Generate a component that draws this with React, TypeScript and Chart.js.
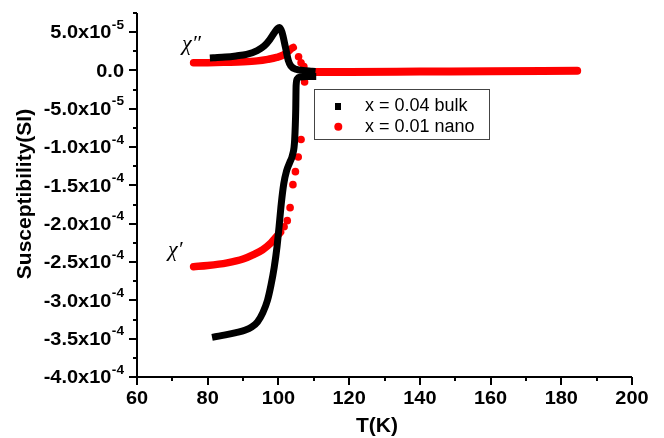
import React, { useEffect, useRef } from "react";
import { Chart, registerables } from "chart.js";

Chart.register(...registerables);

// Temperature axis (K) and susceptibility axis (SI) ticks
const xTicks = [60, 80, 100, 120, 140, 160, 180, 200];
const xMinorTicks = [70, 90, 110, 130, 150, 170, 190];
const yTicks = [5e-5, 0, -5e-5, -1e-4, -1.5e-4, -2e-4, -2.5e-4, -3e-4, -3.5e-4, -4e-4];
const yTickLabels = [
  "5.0x10^-5", "0.0", "-5.0x10^-5", "-1.0x10^-4", "-1.5x10^-4",
  "-2.0x10^-4", "-2.5x10^-4", "-3.0x10^-4", "-3.5x10^-4", "-4.0x10^-4",
];
const yMinorTicks = [7.5e-5, 2.5e-5, -2.5e-5, -7.5e-5, -1.25e-4, -1.75e-4, -2.25e-4, -2.75e-4, -3.25e-4, -3.75e-4];

// x = 0.04 bulk: real part chi'
const bulkChiReal: [number, number][] = [
  [82.2, -3.475e-4], [85, -3.45e-4], [88, -3.42e-4], [90.5, -3.39e-4], [92.5, -3.345e-4],
  [94.1, -3.28e-4], [95.6, -3.16e-4], [96.9, -3.0e-4], [97.9, -2.8e-4], [98.8, -2.57e-4],
  [99.6, -2.3e-4], [100.2, -2.03e-4], [100.8, -1.74e-4], [101.5, -1.48e-4], [102.3, -1.31e-4],
  [103.2, -1.2e-4], [104, -1.1e-4], [104.6, -9.0e-5], [104.9, -5.0e-5], [105.0, -2.0e-5],
  [105.3, -1.1e-5], [106.2, -0.85e-5], [108, -0.8e-5], [109.7, -0.8e-5],
];
// x = 0.04 bulk: imaginary part chi''
const bulkChiImag: [number, number][] = [
  [81.6, 1.65e-5], [85, 1.75e-5], [88, 1.9e-5], [91, 2.1e-5], [94, 2.6e-5], [96, 3.2e-5],
  [97.5, 4.0e-5], [98.8, 4.9e-5], [99.8, 5.5e-5], [100.3, 5.6e-5], [101, 5.0e-5], [102, 3.0e-5],
  [102.8, 1.3e-5], [103.5, 0.6e-5], [105, 0.15e-5], [107, 0.0], [109.5, -0.1e-5],
];
// x = 0.01 nano: real part chi'
const nanoChiReal: [number, number][] = [
  [76, -2.56e-4], [80, -2.545e-4], [85.5, -2.51e-4], [90, -2.46e-4], [93.1, -2.4e-4],
  [95.5, -2.34e-4], [97.9, -2.25e-4], [99.8, -2.15e-4], [100.6, -2.11e-4],
];
const nanoChiRealSparse: [number, number][] = [
  [101.6, -2.04e-4], [102.5, -1.96e-4], [103.3, -1.79e-4], [104.1, -1.49e-4], [104.8, -1.32e-4],
  [105.6, -1.13e-4], [106.4, -9.0e-5], [107.4, -1.5e-5],
];
// x = 0.01 nano: imaginary part chi''
const nanoChiImag: [number, number][] = [
  [76, 1.0e-5], [80, 1.02e-5], [85, 1.07e-5], [90, 1.13e-5], [94, 1.25e-5], [97, 1.45e-5],
  [99.5, 1.7e-5], [101.5, 2.05e-5], [102.8, 2.5e-5], [103.8, 2.9e-5], [104.2, 3.0e-5],
];
const nanoChiImagSparse: [number, number][] = [[105.7, 1.8e-5], [106.4, 1.0e-5], [107.2, 0.5e-5]];
const nanoChiImagTail: [number, number][] = [
  [107.8, -0.2e-5], [120, -0.2e-5], [140, -0.15e-5], [160, -0.1e-5], [184.5, -0.05e-5],
];

const legendItems = ["x = 0.04 bulk", "x = 0.01 nano"];

const toPts = (a: [number, number][]) => a.map(([x, y]) => ({ x, y }));

const lineSet = (data: [number, number][], color: string, width: number, cap: CanvasLineCap) => ({
  data: toPts(data),
  showLine: true,
  borderColor: color,
  backgroundColor: color,
  borderWidth: width,
  borderCapStyle: cap,
  borderJoinStyle: "round" as CanvasLineJoin,
  pointRadius: 0,
  cubicInterpolationMode: "monotone",
});

const dotSet = (data: [number, number][], color: string) => ({
  data: toPts(data),
  showLine: false,
  backgroundColor: color,
  borderColor: color,
  borderWidth: 0,
  pointRadius: 3.8,
});

const SANS = '"Liberation Sans", Arial, sans-serif';
const SERIF = '"Liberation Serif", "Times New Roman", serif';

const overlay = {
  id: "overlay",
  afterDraw(chart: any) {
    const ctx: CanvasRenderingContext2D = chart.ctx;
    const xs = chart.scales.x;
    const ys = chart.scales.y;
    const { left, right, top, bottom } = chart.chartArea;
    ctx.save();
    ctx.strokeStyle = "#000";
    ctx.fillStyle = "#000";
    ctx.lineWidth = 2;

    // axis lines
    ctx.beginPath();
    ctx.moveTo(left, top);
    ctx.lineTo(left, bottom);
    ctx.lineTo(right, bottom);
    ctx.stroke();

    // ticks
    ctx.beginPath();
    yTicks.forEach((v) => {
      const y = Math.round(ys.getPixelForValue(v));
      ctx.moveTo(left - 8, y);
      ctx.lineTo(left, y);
    });
    yMinorTicks.forEach((v) => {
      const y = Math.round(ys.getPixelForValue(v));
      ctx.moveTo(left - 4, y);
      ctx.lineTo(left, y);
    });
    xTicks.forEach((v) => {
      const x = Math.round(xs.getPixelForValue(v));
      ctx.moveTo(x, bottom);
      ctx.lineTo(x, bottom + 8);
    });
    xMinorTicks.forEach((v) => {
      const x = Math.round(xs.getPixelForValue(v));
      ctx.moveTo(x, bottom);
      ctx.lineTo(x, bottom + 4);
    });
    ctx.stroke();

    const stretched = (text: string, x: number, y: number, font: string, align: CanvasTextAlign, sx = 1.05) => {
      ctx.save();
      ctx.font = font;
      ctx.textAlign = align;
      ctx.textBaseline = "middle";
      ctx.translate(x, y);
      ctx.scale(sx, 1);
      ctx.fillText(text, 0, 0);
      ctx.restore();
    };

    // y tick labels with superscript exponent
    const mainFont = `bold 19px ${SANS}`;
    const expFont = `bold 13px ${SANS}`;
    const labelRight = 124;
    yTicks.forEach((v, i) => {
      const y = ys.getPixelForValue(v) + 1;
      const [mant, exp] = yTickLabels[i].split("^");
      if (exp) {
        ctx.font = expFont;
        const ew = ctx.measureText(exp).width * 1.05;
        stretched(exp, labelRight, y - 8, expFont, "right");
        stretched(mant, labelRight - ew - 0.5, y, mainFont, "right");
      } else {
        stretched(mant, labelRight, y, mainFont, "right");
      }
    });

    // x tick labels
    xTicks.forEach((v) => {
      stretched(String(v), xs.getPixelForValue(v), 399, mainFont, "center");
    });

    // axis titles
    ctx.font = `bold 21px ${SANS}`;
    ctx.textAlign = "center";
    ctx.textBaseline = "middle";
    ctx.fillText("T(K)", 377, 426);
    ctx.save();
    ctx.translate(25, 194);
    ctx.rotate(-Math.PI / 2);
    ctx.fillText("Susceptibility(SI)", 0, 0);
    ctx.restore();

    // component labels
    ctx.font = `italic 22px ${SERIF}`;
    ctx.textAlign = "left";
    ctx.fillText("\u03C7\u2033", 182, 44);
    ctx.fillText("\u03C7\u2032", 168, 250);

    // legend
    ctx.fillStyle = "#fff";
    ctx.fillRect(314.5, 89.5, 175, 50);
    ctx.strokeStyle = "#444";
    ctx.lineWidth = 1;
    ctx.strokeRect(314.5, 89.5, 175, 50);
    ctx.fillStyle = "#000";
    ctx.fillRect(335, 103, 6, 7);
    ctx.fillStyle = "#ff0000";
    ctx.beginPath();
    ctx.arc(338.3, 126.7, 4, 0, Math.PI * 2);
    ctx.fill();
    ctx.fillStyle = "#000";
    ctx.font = `18px ${SANS}`;
    ctx.textAlign = "left";
    ctx.textBaseline = "middle";
    ctx.fillText(legendItems[0], 365, 106);
    ctx.fillText(legendItems[1], 365, 127);

    ctx.restore();
  },
};

export default function App() {
  const ref = useRef<HTMLCanvasElement>(null);

  useEffect(() => {
    if (!ref.current) return;
    const chart = new Chart(ref.current, {
      type: "scatter",
      data: {
        datasets: [
          lineSet(bulkChiReal, "#000000", 7, "square"),
          lineSet(bulkChiImag, "#000000", 7, "square"),
          lineSet(nanoChiReal, "#ff0000", 7.5, "round"),
          dotSet(nanoChiRealSparse, "#ff0000"),
          lineSet(nanoChiImag, "#ff0000", 7.5, "round"),
          dotSet(nanoChiImagSparse, "#ff0000"),
          lineSet(nanoChiImagTail, "#ff0000", 8, "round"),
        ] as any,
      },
      options: {
        animation: false,
        responsive: false,
        layout: { padding: { left: 0, top: 13, right: 32, bottom: 0 } },
        plugins: { legend: { display: false }, tooltip: { enabled: false } },
        scales: {
          x: {
            type: "linear",
            min: 60,
            max: 200,
            grid: { display: false },
            border: { display: false },
            ticks: { display: false },
            afterFit: (s: any) => { s.height = 61; },
          },
          y: {
            type: "linear",
            min: -4e-4,
            max: 7.5e-5,
            grid: { display: false },
            border: { display: false },
            ticks: { display: false },
            afterFit: (s: any) => { s.width = 137; },
          },
        },
      },
      plugins: [overlay],
    });
    return () => chart.destroy();
  }, []);

  return (
    <div style={{ position: "absolute", left: 0, top: 0, width: 664, height: 438, background: "#fff" }}>
      <canvas ref={ref} width={664} height={438} />
    </div>
  );
}
